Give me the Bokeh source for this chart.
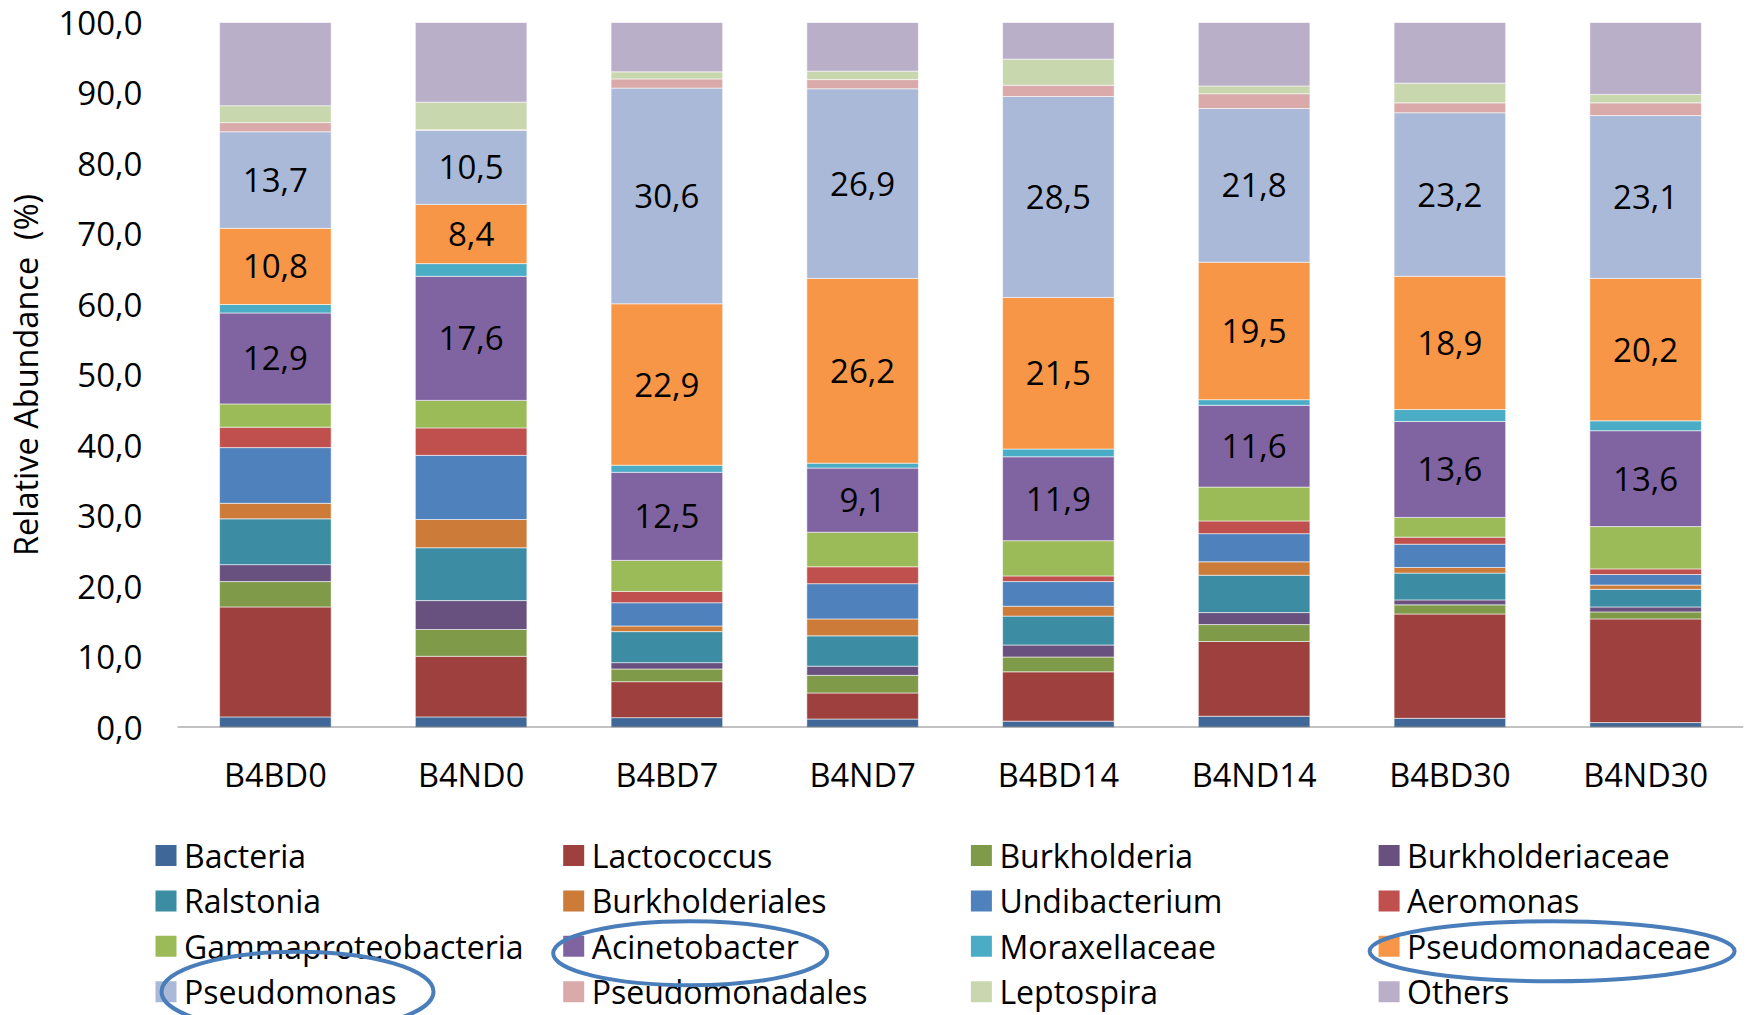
from bokeh.plotting import figure
from bokeh.layouts import column
from bokeh.models import ColumnDataSource, Range1d, FixedTicker
from bokeh.core.properties import value
from bokeh.embed import file_html
from bokeh.resources import INLINE

# ---- data -------------------------------------------------------------
samples = ["B4BD0", "B4ND0", "B4BD7", "B4ND7", "B4BD14", "B4ND14", "B4BD30", "B4ND30"]

taxa = ["Bacteria", "Lactococcus", "Burkholderia", "Burkholderiaceae",
        "Ralstonia", "Burkholderiales", "Undibacterium", "Aeromonas",
        "Gammaproteobacteria", "Acinetobacter", "Moraxellaceae", "Pseudomonadaceae",
        "Pseudomonas", "Pseudomonadales", "Leptospira", "Others"]

bacteria            = [1.5, 1.5, 1.4, 1.2, 0.9, 1.6, 1.3, 0.7]
lactococcus         = [15.6, 8.6, 5.1, 3.7, 7.0, 10.6, 14.8, 14.7]
burkholderia        = [3.6, 3.8, 1.8, 2.5, 2.1, 2.4, 1.3, 1.0]
burkholderiaceae    = [2.4, 4.1, 0.9, 1.3, 1.7, 1.7, 0.7, 0.7]
ralstonia           = [6.5, 7.5, 4.4, 4.3, 4.1, 5.3, 3.8, 2.5]
burkholderiales     = [2.2, 4.0, 0.8, 2.4, 1.4, 1.9, 0.8, 0.6]
undibacterium       = [7.9, 9.1, 3.3, 5.0, 3.5, 4.0, 3.3, 1.5]
aeromonas           = [2.9, 3.9, 1.6, 2.4, 0.8, 1.8, 1.0, 0.8]
gammaproteobacteria = [3.3, 3.9, 4.4, 4.9, 5.0, 4.8, 2.8, 6.0]
acinetobacter       = [12.9, 17.6, 12.5, 9.1, 11.9, 11.6, 13.6, 13.6]
moraxellaceae       = [1.2, 1.8, 1.0, 0.7, 1.1, 0.8, 1.7, 1.4]
pseudomonadaceae    = [10.8, 8.4, 22.9, 26.2, 21.5, 19.5, 18.9, 20.2]
pseudomonas         = [13.7, 10.5, 30.6, 26.9, 28.5, 21.8, 23.2, 23.1]
pseudomonadales     = [1.3, 0.1, 1.3, 1.3, 1.6, 2.1, 1.4, 1.8]
leptospira          = [2.4, 3.9, 1.0, 1.2, 3.7, 1.1, 2.8, 1.2]
others              = [11.8, 11.3, 7.0, 6.9, 5.2, 9.0, 8.6, 10.2]

series = [bacteria, lactococcus, burkholderia, burkholderiaceae, ralstonia,
          burkholderiales, undibacterium, aeromonas, gammaproteobacteria,
          acinetobacter, moraxellaceae, pseudomonadaceae, pseudomonas,
          pseudomonadales, leptospira, others]

colors = ["#3F6899", "#9E413E", "#7F9A48", "#68517F", "#3C8DA3", "#CC7B38",
          "#4F81BD", "#C0504D", "#9BBB59", "#8064A2", "#4BACC6", "#F79646",
          "#AAB9D7", "#D9AAA9", "#C9D7AE", "#BAAFC9"]

labelled = ["Acinetobacter", "Pseudomonadaceae", "Pseudomonas"]
highlighted = ["Pseudomonas", "Acinetobacter", "Pseudomonadaceae"]

y_ticks = [0, 10, 20, 30, 40, 50, 60, 70, 80, 90, 100]
y_tick_labels = ["0,0", "10,0", "20,0", "30,0", "40,0", "50,0",
                 "60,0", "70,0", "80,0", "90,0", "100,0"]

FONT = "Open Sans"

# ---- page geometry ----------------------------------------------------
W = 1747
FRAME_L, FRAME_R = 150, 1743          # plot frame edges (px)
CAT_L = 177                           # where the first category slot starts
n = len(samples)
slot = (FRAME_R - CAT_L) / n
x_start = -(CAT_L - FRAME_L) / slot

# ---- stacked bars -----------------------------------------------------
xs = [i + 0.5 for i in range(n)]
data = {"x": xs}
for name, vals in zip(taxa, series):
    data[name] = vals
src = ColumnDataSource(data)

p = figure(x_range=Range1d(x_start, n), y_range=Range1d(0, 100),
           width=W, height=815, output_backend="svg", toolbar_location=None,
           min_border_left=FRAME_L, min_border_right=W - FRAME_R,
           min_border_top=22, min_border_bottom=88)

p.vbar_stack(taxa, x="x", width=0.57, color=colors, source=src,
             line_color="white", line_alpha=0.55, line_width=1)

# category baseline
p.segment(x0=[0], y0=[0], x1=[n], y1=[0], line_color="#868686", line_width=2)

# value labels centred in the highlighted segments
lx, ly, lt = [], [], []
for j in range(n):
    base = 0.0
    for name, vals in zip(taxa, series):
        v = vals[j]
        if name in labelled:
            lx.append(xs[j])
            ly.append(base + v / 2)
            lt.append(f"{v:.1f}".replace(".", ","))
        base += v
p.text(x=lx, y=ly, text=lt, text_align="center", text_baseline="middle",
       text_font=value(FONT), text_font_size="33px", text_color="black")

p.xgrid.visible = False
p.ygrid.visible = False
p.outline_line_color = None
p.background_fill_color = "white"

p.yaxis.ticker = FixedTicker(ticks=y_ticks)
p.yaxis.major_label_overrides = dict(zip(y_ticks, y_tick_labels))
p.yaxis.axis_line_color = None
p.yaxis.major_tick_line_color = None
p.yaxis.minor_tick_line_color = None
p.yaxis.major_tick_out = 0
p.yaxis.major_tick_in = 0
p.yaxis.major_label_standoff = 8
p.yaxis.major_label_text_font = FONT
p.yaxis.major_label_text_font_size = "33px"
p.yaxis.major_label_text_color = "black"
p.yaxis.axis_label = "Relative Abundance \u00a0(%)"
p.yaxis.axis_label_text_font = FONT
p.yaxis.axis_label_text_font_size = "32.5px"
p.yaxis.axis_label_text_font_style = "normal"
p.yaxis.axis_label_text_color = "black"
p.yaxis.axis_label_standoff = 7

p.xaxis.ticker = FixedTicker(ticks=xs)
p.xaxis.major_label_overrides = dict(zip(xs, samples))
p.xaxis.axis_line_color = None
p.xaxis.major_tick_line_color = None
p.xaxis.minor_tick_line_color = None
p.xaxis.major_tick_out = 0
p.xaxis.major_tick_in = 0
p.xaxis.major_label_standoff = 24
p.xaxis.major_label_text_font = FONT
p.xaxis.major_label_text_font_size = "32.5px"
p.xaxis.major_label_text_color = "black"

# ---- legend panel (4 columns) ----------------------------------------
q = figure(width=W, height=200, x_range=Range1d(FRAME_L, FRAME_R), y_range=Range1d(1015, 815),
           output_backend="svg", toolbar_location=None,
           x_axis_location=None, y_axis_location=None,
           min_border_left=FRAME_L, min_border_right=W - FRAME_R,
           min_border_top=0, min_border_bottom=0)
q.xgrid.visible = False
q.ygrid.visible = False
q.outline_line_color = None

col_x0, col_step = 155.0, 407.7
row_y0, row_step = 855.0, 45.4
sq = 21

sq_x, sq_y, tx = [], [], []
for i, name in enumerate(taxa):
    c, r = i % 4, i // 4
    left = col_x0 + c * col_step
    sq_x.append(left + sq / 2)
    sq_y.append(row_y0 + r * row_step)
    tx.append(left + 28.5)

q.rect(x=sq_x, y=sq_y, width=sq, height=sq, fill_color=colors, line_color=None)
q.text(x=tx, y=sq_y, text=taxa, text_align="left", text_baseline="middle",
       text_font=value(FONT), text_font_size="32px", text_color="black")

# rings drawn round the taxa of interest
ring_w = {"Pseudomonas": 272, "Acinetobacter": 274, "Pseudomonadaceae": 365}
ring_h = {"Pseudomonas": 80, "Acinetobacter": 64, "Pseudomonadaceae": 60}
ring_dx = {"Pseudomonas": 6, "Acinetobacter": -10, "Pseudomonadaceae": -9}
ring_dy = {"Pseudomonas": 0, "Acinetobacter": 7, "Pseudomonadaceae": 5}
ex, ey, ew, eh = [], [], [], []
for name in highlighted:
    i = taxa.index(name)
    left = sq_x[i] - sq / 2
    ex.append(left + ring_dx[name] + ring_w[name] / 2)
    ey.append(sq_y[i] + ring_dy[name])
    ew.append(ring_w[name])
    eh.append(ring_h[name])
q.ellipse(x=ex, y=ey, width=ew, height=eh, fill_color=None,
          line_color="#4A7EBB", line_width=4)

layout = column(p, q, spacing=0)
open("out.html", "w").write(file_html(layout, INLINE))
